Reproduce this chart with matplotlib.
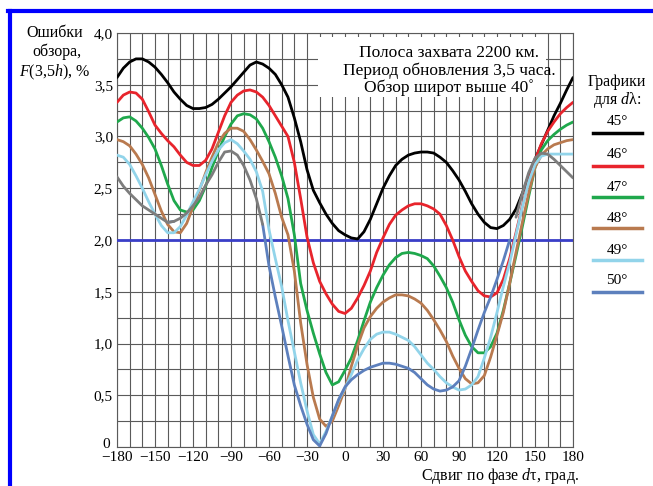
import numpy as np
import matplotlib
matplotlib.use("Agg")
import matplotlib.pyplot as plt
from matplotlib.lines import Line2D
from matplotlib.patches import Rectangle
from matplotlib.transforms import ScaledTranslation

plt.rcParams["font.family"] = ["Liberation Serif", "DejaVu Serif"]
plt.rcParams["mathtext.fontset"] = "custom"
plt.rcParams["mathtext.rm"] = "Liberation Serif"
plt.rcParams["mathtext.it"] = "Liberation Serif:italic"

# Phase shift, degrees (every 5 deg)
shift = list(range(-180, 181, 5))

err_45 = [3.57, 3.66, 3.72, 3.75, 3.75, 3.72, 3.67, 3.60, 3.52, 3.43, 3.36, 3.30, 3.27, 3.27,
          3.28, 3.31, 3.36, 3.42, 3.48, 3.55, 3.62, 3.69, 3.72, 3.70, 3.66, 3.60, 3.50, 3.38,
          3.18, 2.95, 2.68, 2.48, 2.36, 2.25, 2.16, 2.09, 2.05, 2.02, 2.01, 2.08, 2.20, 2.35,
          2.50, 2.62, 2.72, 2.78, 2.82, 2.84, 2.85, 2.85, 2.84, 2.80, 2.75, 2.67, 2.58, 2.47,
          2.35, 2.25, 2.17, 2.12, 2.11, 2.14, 2.20, 2.30, 2.45, 2.62, 2.78, 2.92, 3.06, 3.20,
          3.32, 3.45, 3.57]
err_46 = [3.33, 3.40, 3.43, 3.42, 3.36, 3.24, 3.11, 3.03, 2.96, 2.90, 2.82, 2.75, 2.72, 2.72,
          2.77, 2.88, 3.04, 3.20, 3.33, 3.40, 3.44, 3.45, 3.43, 3.38, 3.30, 3.20, 3.10, 3.00,
          2.75, 2.40, 2.03, 1.78, 1.60, 1.48, 1.38, 1.31, 1.29, 1.34, 1.44, 1.56, 1.70, 1.88,
          2.02, 2.15, 2.24, 2.29, 2.33, 2.35, 2.35, 2.33, 2.30, 2.25, 2.14, 2.00, 1.84, 1.70,
          1.60, 1.51, 1.46, 1.45, 1.49, 1.62, 1.82, 2.07, 2.33, 2.57, 2.77, 2.93, 3.05, 3.14,
          3.22, 3.28, 3.33]
err_47 = [3.14, 3.18, 3.19, 3.15, 3.08, 2.99, 2.88, 2.72, 2.54, 2.38, 2.29, 2.27, 2.29, 2.38,
          2.52, 2.70, 2.86, 3.00, 3.12, 3.20, 3.22, 3.21, 3.17, 3.08, 2.95, 2.80, 2.62, 2.40,
          2.05, 1.58, 1.32, 1.10, 0.90, 0.72, 0.60, 0.63, 0.74, 0.86, 1.03, 1.22, 1.40, 1.54,
          1.66, 1.76, 1.83, 1.87, 1.88, 1.87, 1.85, 1.82, 1.75, 1.65, 1.54, 1.40, 1.23, 1.08,
          0.97, 0.91, 0.91, 0.97, 1.10, 1.32, 1.58, 1.85, 2.13, 2.42, 2.70, 2.87, 2.96, 3.02,
          3.07, 3.11, 3.14]
err_48 = [2.97, 2.95, 2.91, 2.83, 2.73, 2.60, 2.44, 2.28, 2.15, 2.08, 2.07, 2.16, 2.32, 2.48,
          2.65, 2.80, 2.94, 3.03, 3.08, 3.08, 3.05, 2.97, 2.87, 2.76, 2.64, 2.45, 2.22, 2.05,
          1.70, 1.20, 0.80, 0.48, 0.27, 0.20, 0.25, 0.40, 0.56, 0.78, 0.98, 1.15, 1.26, 1.34,
          1.40, 1.44, 1.47, 1.47, 1.46, 1.43, 1.39, 1.32, 1.23, 1.13, 1.02, 0.88, 0.76, 0.66,
          0.61, 0.62, 0.69, 0.87, 1.08, 1.30, 1.58, 1.88, 2.17, 2.45, 2.70, 2.82, 2.88, 2.92,
          2.94, 2.96, 2.97]
err_49 = [2.82, 2.80, 2.73, 2.62, 2.50, 2.37, 2.25, 2.14, 2.07, 2.07, 2.13, 2.24, 2.37, 2.49,
          2.63, 2.76, 2.87, 2.94, 2.97, 2.93, 2.86, 2.78, 2.66, 2.47, 2.10, 1.82, 1.55, 1.22,
          0.92, 0.62, 0.35, 0.12, 0.03, 0.15, 0.30, 0.45, 0.57, 0.70, 0.84, 0.95, 1.04, 1.09,
          1.11, 1.11, 1.09, 1.06, 1.03, 0.97, 0.89, 0.81, 0.75, 0.68, 0.62, 0.58, 0.55, 0.56,
          0.60, 0.68, 0.86, 1.06, 1.30, 1.55, 1.78, 2.05, 2.32, 2.56, 2.73, 2.81, 2.83, 2.83,
          2.83, 2.83, 2.83]
err_50 = [2.61, 2.52, 2.45, 2.39, 2.33, 2.29, 2.25, 2.21, 2.17, 2.18, 2.21, 2.26, 2.33, 2.41,
          2.53, 2.63, 2.75, 2.85, 2.86, 2.82, 2.72, 2.58, 2.40, 2.15, 1.75, 1.45, 1.17, 0.88,
          0.60, 0.40, 0.22, 0.07, 0.01, 0.13, 0.30, 0.46, 0.58, 0.65, 0.70, 0.74, 0.77, 0.79,
          0.81, 0.81, 0.80, 0.78, 0.76, 0.72, 0.66, 0.60, 0.56, 0.54, 0.55, 0.58, 0.64, 0.78,
          0.95, 1.13, 1.30, 1.45, 1.62, 1.80, 2.00, 2.22, 2.45, 2.65, 2.79, 2.84, 2.83, 2.78,
          2.72, 2.66, 2.60]

series = [err_45, err_46, err_47, err_48, err_49, err_50]
labels = ["45°", "46°", "47°", "48°", "49°", "50°"]
colors = ["#000000", "#e8242c", "#1fa84c", "#b97a4f", "#92d4ea", "#5d80bd"]

x_ticks = list(range(-180, 181, 30))
x_ticklabels = [str(v).replace("-", "\u2212") for v in x_ticks]
y_ticks = [0, 0.5, 1.0, 1.5, 2.0, 2.5, 3.0, 3.5, 4.0]
y_ticklabels = ["0", "0,5", "1,0", "1,5", "2,0", "2,5", "3,0", "3,5", "4,0"]

W, H = 653, 486


def fx(px):
    return px / W


def fy(py):
    return 1 - py / H


fig = plt.figure(figsize=(W / 100, H / 100), dpi=100)
ax = fig.add_axes([fx(117), fy(447), fx(573) - fx(117), fy(33) - fy(447)])

ax.set_xlim(-180, 180)
ax.set_ylim(0, 4)
ax.set_xticks(x_ticks)
ax.set_xticklabels(x_ticklabels, fontsize=11)
ax.set_xticks(list(range(-180, 181, 10)), minor=True)
ax.set_yticks(y_ticks)
ax.set_yticklabels(y_ticklabels, fontsize=11)
ax.set_yticks(list(np.arange(0, 4.01, 0.25)), minor=True)
ax.tick_params(which="both", length=0, pad=3)
ax.grid(which="both", color="#5a5a5a", linewidth=0.8)
ax.set_axisbelow(True)
for sp in ax.spines.values():
    sp.set_color("#5a5a5a")
    sp.set_linewidth(0.8)

# lift the "0" of the y axis a little so it clears the -180 label
zero_lab = ax.get_yticklabels()[0]
zero_lab.set_transform(zero_lab.get_transform() + ScaledTranslation(-2 / 72, 3 / 72, fig.dpi_scale_trans))

# threshold line
ax.axhline(2.0, color="#3a3fc8", linewidth=2, zorder=3)

sx = np.array(shift)
for vals, col in zip(series, colors):
    v = np.array(vals)
    if col == "#5d80bd":
        # upper part of the 50° curve looks grey in the original
        low = np.where(v <= 2.2, v, np.nan)
        high = np.where(v >= 2.1, v, np.nan)
        ax.plot(sx, low, color=col, linewidth=2, zorder=4, solid_capstyle="round", solid_joinstyle="round")
        ax.plot(sx, high, color="#7d7d7d", linewidth=2, zorder=4, solid_capstyle="round", solid_joinstyle="round")
    else:
        ax.plot(sx, v, color=col, linewidth=2, zorder=4, solid_capstyle="round", solid_joinstyle="round")

# white box with the conditions text
ax.add_patch(Rectangle((fx(318), fy(97)), fx(546) - fx(318), fy(37) - fy(97),
                       transform=fig.transFigure, facecolor="white", edgecolor="none", zorder=5))
box_lines = ["Полоса захвата 2200 км.", "Период обновления 3,5 часа.", "Обзор широт выше 40˚"]
for i, t in enumerate(box_lines):
    fig.text(fx(449), fy(53 + 17.5 * i), t, ha="center", va="center", fontsize=12.5, zorder=6)

# y label
fig.text(fx(55), fy(33), "Ошибки", ha="center", va="center", fontsize=11.5)
fig.text(fx(57), fy(52), "обзора,", ha="center", va="center", fontsize=11.5)
fig.text(fx(55), fy(72), "$F$(3,5$h$), %", ha="center", va="center", fontsize=11.5)

# x label
fig.text(fx(500), fy(476), "Сдвиг по фазе $d$τ, град.", ha="center", va="center", fontsize=11.5)

# legend on the right
fig.text(fx(617), fy(82), "Графики", ha="center", va="center", fontsize=11.5)
fig.text(fx(617), fy(100), "для $d$λ:", ha="center", va="center", fontsize=11.5)
text_y = [121, 154, 187, 219, 250, 281]
line_y = [133, 166, 197, 228, 260, 292]
for lab, col, ty, ly in zip(labels, colors, text_y, line_y):
    fig.text(fx(617), fy(ty), lab, ha="center", va="center", fontsize=11)
    fig.add_artist(Line2D([fx(593), fx(642)], [fy(ly), fy(ly)], color=col, linewidth=2.5))

# blue frame around the picture (cut at right and bottom)
fig.add_artist(Line2D([fx(9.5), fx(9.5)], [fy(11), fy(490)], color="#0000ff", linewidth=3))
fig.add_artist(Line2D([fx(8), fx(660)], [fy(11.5), fy(11.5)], color="#0000ff", linewidth=3))

fig.savefig("out.png", dpi=100)
